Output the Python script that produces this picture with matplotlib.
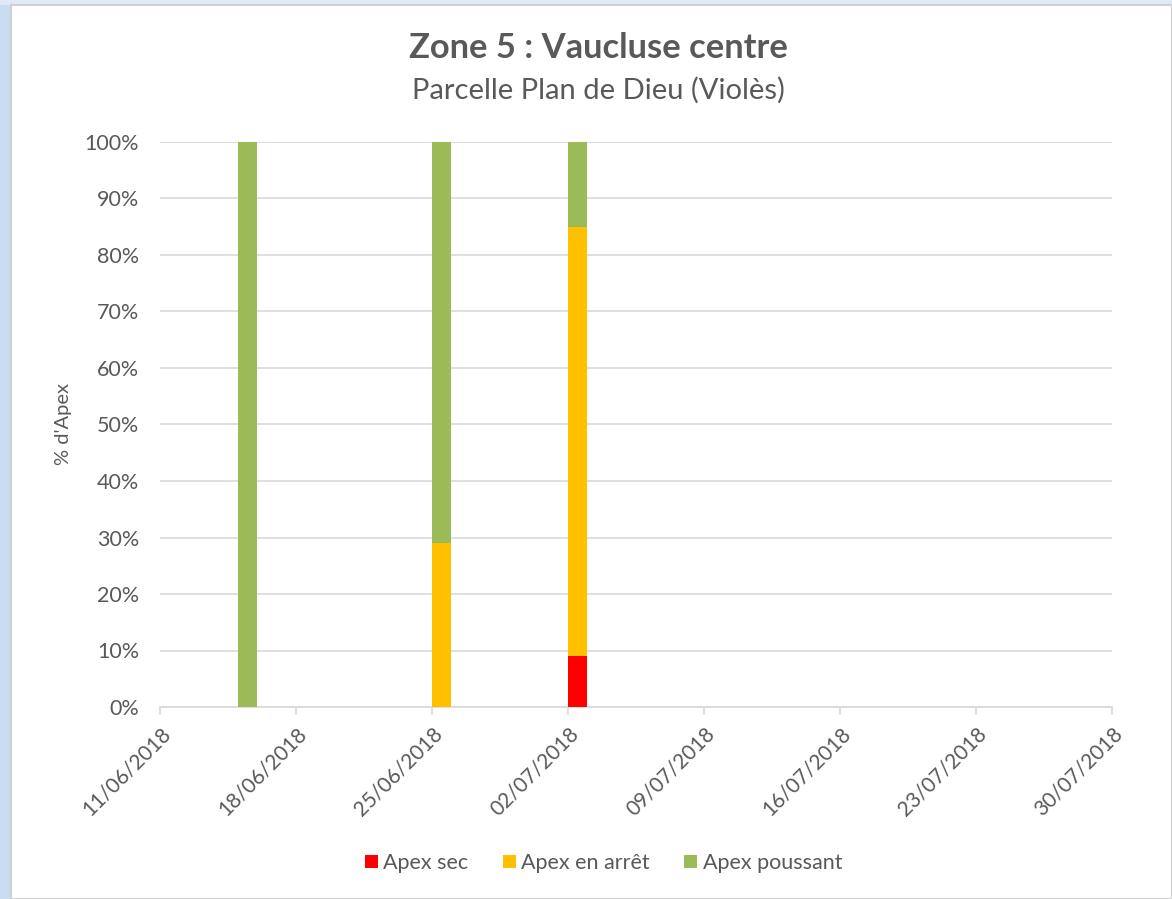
import matplotlib.pyplot as plt
import matplotlib.dates as mdates
import matplotlib.transforms as mtransforms
from matplotlib.patches import Rectangle
import numpy as np
from datetime import datetime

plt.rcParams['font.family'] = ['Lato', 'DejaVu Sans']

# data
dates = ["15/06/2018", "25/06/2018", "02/07/2018"]
apex_sec = [0, 0, 9]
apex_arret = [0, 29, 76]
apex_poussant = [100, 71, 15]
series_names = ["Apex sec", "Apex en arrêt", "Apex poussant"]
colors = ["#ff0000", "#ffc000", "#9bbb59"]
tick_dates = ["11/06/2018", "18/06/2018", "25/06/2018", "02/07/2018",
              "09/07/2018", "16/07/2018", "23/07/2018", "30/07/2018"]

txt = "#595959"
grid = "#d9d9d9"

fig = plt.figure(figsize=(11.72, 8.99), dpi=100)
fig.patch.set_facecolor("#dfeaf6")
# blue window strip on the left
fig.add_artist(Rectangle((0, 0), 11 / 1172, 1 - 5 / 899, transform=fig.transFigure,
                         facecolor="#c8ddf2", edgecolor="none", zorder=0))
fig.add_artist(Rectangle((11 / 1172, 0), 1 - 11 / 1172, 1 - 5 / 899,
                         transform=fig.transFigure, facecolor="white",
                         edgecolor="#d0d0d0", lw=1.5, zorder=0))

ax = fig.add_axes([160 / 1172, 1 - 707 / 899, (1112 - 160) / 1172, (707 - 142) / 899])
ax.set_facecolor("none")

x = [datetime.strptime(d, "%d/%m/%Y") for d in dates]
xn = mdates.date2num(x)
bottom = np.zeros(len(x))
for vals, name, c in zip([apex_sec, apex_arret, apex_poussant], series_names, colors):
    v = np.array(vals, dtype=float)
    ax.bar(xn, v, width=1.0, align="edge", bottom=bottom, color=c, label=name, zorder=3)
    bottom += v

ticks = [mdates.date2num(datetime.strptime(d, "%d/%m/%Y")) for d in tick_dates]
ax.set_xlim(ticks[0], ticks[-1])
ax.set_ylim(0, 100)
ax.set_xticks(ticks)
ax.set_xticklabels(tick_dates, rotation=45, ha="right", rotation_mode="anchor",
                   fontsize=15, color=txt)
offset = mtransforms.ScaledTranslation(12 / 100, -4 / 100, fig.dpi_scale_trans)
for lab in ax.get_xticklabels():
    lab.set_transform(lab.get_transform() + offset)
ax.set_yticks(np.arange(0, 101, 10))
ax.set_yticklabels([f"{v}%" for v in range(0, 101, 10)], fontsize=15.5, color=txt)
ax.tick_params(axis="y", length=0, pad=15)
ax.tick_params(axis="x", length=6, color=grid, width=1.2, pad=6, direction="out")
ax.grid(axis="y", color=grid, lw=1.2, zorder=0)
for s in ["top", "right", "left"]:
    ax.spines[s].set_visible(False)
ax.spines["bottom"].set_color(grid)
ax.spines["bottom"].set_linewidth(1.2)

ax.set_ylabel("% d'Apex", fontsize=14.5, color=txt, labelpad=9)

fig.text(0.511, 1 - 48 / 899, "Zone 5 : Vaucluse centre", ha="center", va="center",
         fontsize=24.8, fontweight="bold", color=txt)
fig.text(0.511, 1 - 90 / 899, "Parcelle Plan de Dieu (Violès)", ha="center", va="center",
         fontsize=21, color=txt)

leg = fig.legend(loc="center", bbox_to_anchor=(0.515, 1 - 863 / 899), ncol=3,
                 frameon=False, fontsize=15.5, handlelength=0.6, handleheight=0.6,
                 handletextpad=0.25, columnspacing=1.6)
for t in leg.get_texts():
    t.set_color(txt)

fig.savefig("out.png", dpi=100, facecolor=fig.get_facecolor())
